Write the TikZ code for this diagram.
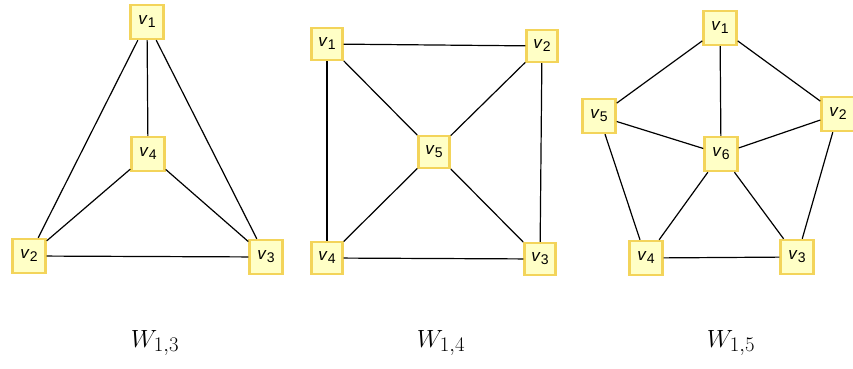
\documentclass[tikz,border=0pt]{standalone}
\usepackage{fontspec}
\setsansfont{Liberation Sans}
\definecolor{boxfill}{HTML}{FFFFC6}
\definecolor{boxline}{HTML}{F3D45A}
\tikzset{
  vtx/.style={draw=boxline, fill=boxfill, line width=2.4pt, minimum width=33pt,
    minimum height=34pt, inner sep=0pt, font=\sffamily\fontsize{17}{17}\selectfont},
  edge/.style={line width=1.2pt, black},
  caption/.style={font=\fontsize{29}{29}\selectfont}
}
\newcommand{\vl}[1]{\textit{v}\raisebox{-3pt}{\fontsize{14}{14}\selectfont #1}}
\begin{document}
\begin{tikzpicture}[x=1pt,y=-1pt]
    \useasboundingbox (0,0) rectangle (853,369);

    % W_{1,3}
    \node[vtx] (a1) at (147,22)  {\vl{1}};
    \node[vtx] (a2) at (29,256)  {\vl{2}};
    \node[vtx] (a3) at (266,257) {\vl{3}};
    \node[vtx] (a4) at (148,154) {\vl{4}};
    \foreach \s/\t in {a1/a2, a1/a3, a1/a4, a2/a3, a2/a4, a3/a4}
        \draw[edge] (\s) -- (\t);

    % W_{1,4}
    \node[vtx, minimum width=31pt, minimum height=32pt] (b1) at (327,44)  {\vl{1}};
    \node[vtx, minimum width=31pt, minimum height=32pt] (b2) at (542,46)  {\vl{2}};
    \node[vtx, minimum width=31pt, minimum height=32pt] (b3) at (540,259) {\vl{3}};
    \node[vtx, minimum width=31pt, minimum height=32pt] (b4) at (327,258) {\vl{4}};
    \node[vtx, minimum width=31pt, minimum height=32pt] (b5) at (434,152) {\vl{5}};
    \foreach \s/\t in {b1/b2, b2/b3, b3/b4, b4/b1, b1/b5, b2/b5, b3/b5, b4/b5}
        \draw[edge] (\s) -- (\t);

    % W_{1,5}
    \node[vtx] (c1) at (720,28)  {\vl{1}};
    \node[vtx] (c2) at (838,114) {\vl{2}};
    \node[vtx] (c3) at (797,257) {\vl{3}};
    \node[vtx] (c4) at (646,258) {\vl{4}};
    \node[vtx] (c5) at (599,116) {\vl{5}};
    \node[vtx] (c6) at (721,154) {\vl{6}};
    \foreach \s/\t in {c1/c2, c2/c3, c3/c4, c4/c5, c5/c1, c1/c6, c2/c6, c3/c6, c4/c6, c5/c6}
        \draw[edge] (\s) -- (\t);

    % etiquetas
    \node[caption] (w3) at (155,343) {$W_{1,3}$};
    \node[caption] (w4) at (441,343) {$W_{1,4}$};
    \node[caption] (w5) at (731,343) {$W_{1,5}$};
\end{tikzpicture}
\end{document}
